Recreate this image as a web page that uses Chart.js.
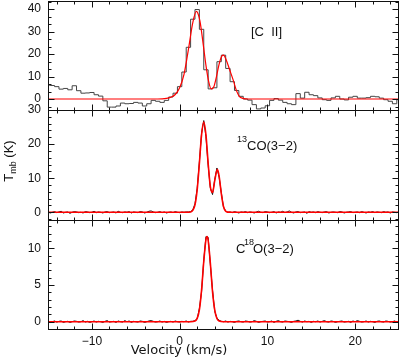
<!DOCTYPE html>
<html>
<head>
<meta charset="utf-8">
<script src="https://cdn.jsdelivr.net/npm/chart.js@4.4.1/dist/chart.umd.min.js"></script>
<style>
  html, body { margin: 0; padding: 0; background: #fff; }
  #wrap { position: relative; width: 399px; height: 357px; }
  #wrap canvas { position: absolute; left: 0; top: 0; }
</style>
</head>
<body>
<div id="wrap">
  <canvas id="cii" width="399" height="357"></canvas>
  <canvas id="co13" width="399" height="357"></canvas>
  <canvas id="c18o" width="399" height="357"></canvas>
</div>
<script>
// velocity range shared by the three panels (km/s)
const V_MIN = -15;
const V_MAX = 25;
const velTicks = [-10, 0, 10, 20];

// [C II]: 0.5 km/s channels centred on -15, -14.5, ... 25
const CII_V0 = -15.25; // left edge of first channel
const CII_DV = 0.5;
const ciiTicks = [0, 10, 20, 30, 40];
const ciiHist = [
  6.2, 6.0, 5.5, 4.4, 4.7, 4.1, 5.9, 3.7, 2.6, 2.7,
  2.9, 1.9, 1.3, -0.8, -3.6, -3.6, -3.1, -1.8, -2.1, -2.0,
  -1.5, -1.8, -3.1, -2.1, -0.6, -1.0, -1.5, -0.6, 0.9, 2.6,
  5.5,
  12, 23, 35.5, 39.8, 31, 13, 4.5, 5, 16.6, 19.5,
  13.6, 7.7, 3.8, 1.2, 0, -0.5,
  -2.5, -4.4, -4.0, -3.0, -0.6, 0.2, -0.5, -1.5, -2.1, -2.5,
  2.4, 0.4, 3.0, 1.9, 1.5, 0.5, -0.3, -0.6, 0.5, 1.2,
  0, -0.4, 0.8, 1.2, 0.4, 0.4, 0.6, 1.2, 1.0, 0.4,
  -0.3, -1.0, -2.1, -0.3
];
// [C II] fit (red)
const ciiFitV = [-15, -2.5, -1.5, -1, -0.5, 0, 0.5, 1, 1.5, 1.9, 2.3, 2.7, 3.0, 3.3, 3.6, 3.9, 4.2, 4.5, 4.8, 5.0, 5.3, 5.7, 6.1, 6.5, 6.8, 7.2, 7.8, 25];
const ciiFitT = [0, 0, 0.3, 0.8, 2, 5, 11, 22, 34, 39, 35, 24, 15, 8, 4.5, 5.5, 10, 15.5, 19, 19.5, 17.5, 13, 8.5, 3.5, 1.2, 0.3, 0, 0];

// CO spectra sampled every SPEC_DV from SPEC_V0
const SPEC_V0 = -15;
const SPEC_DV = 0.25;

const co13Ticks = [0, 10, 20, 30];
const co13Spec = [
  0.1, -0.2, 0.0, 0.2, -0.1, 0.1, 0.3, -0.2, 0.0, 0.1,
  -0.3, 0.0, 0.2, 0.1, -0.1, 0.0, -0.2, 0.2, 0.1, -0.1,
  0.0, 0.3, -0.1, 0.1, 0.0, -0.2, 0.1, 0.2, -0.1, 0.0,
  0.1, -0.2, 0.3, 0.0, -0.1, 0.1, 0.0, 0.2, -0.2, 0.1,
  0.0, -0.1, 0.2, 0.1, -0.2, 0.0, 0.3, 0.4, 0.1, -0.1,
  0.0, 0.2, -0.1, 0.1, -0.2, 0.0, 0.1, -0.1, 0.2, 0.0,
  -0.1, 0.1, 0.0, 0.1,
  0.1, 0.2, 0.7, 2.5, 7.0, 14.8, 23.2, 26.9, 22.2, 13.8,
  7.1, 5.2, 9.6, 13.0, 10.3, 5.8, 1.5, 0.4, 0.0, 0.1,
  -0.1, 0.2, 0.0, -0.2, 0.1, 0.0, 0.2, -0.1, 0.1, 0.0,
  -0.2, 0.1, 0.3, 0.0, -0.1, 0.2, 0.1, -0.1, 0.0, 0.2,
  -0.2, 0.1, 0.0, 0.3, -0.1, 0.1, 0.4, 0.0, -0.2, 0.1,
  0.2, -0.1, 0.0, 0.1, -0.3, 0.2, 0.0, 0.1, -0.1, 0.2,
  0.0, -0.1, 0.1, 0.2, -0.2, 0.0, 0.1, 0.0, -0.1, 0.2,
  0.1, -0.2, 0.0, 0.1, 0.2, -0.1, 0.0, 0.1, -0.1, 0.2,
  0.0, -0.2, 0.1, 0.0, 0.2, -0.1, 0.1, 0.0, -0.1, 0.2,
  0.0, 0.1, -0.2, 0.1, 0.0, -0.1, 0.1
];
const co13FitV = [-15, 0.75, 1.25, 1.5, 1.75, 2.0, 2.25, 2.5, 2.75, 3.0, 3.25, 3.5, 3.75, 4.0, 4.3, 4.5, 4.75, 5.0, 5.25, 5.5, 5.9, 25];
const co13FitT = [0, 0, 0.1, 0.6, 2.2, 6.6, 14.3, 22.7, 26.5, 22.7, 14.4, 7.5, 5.8, 9.3, 12.6, 10.6, 5.5, 1.7, 0.3, 0.05, 0, 0];

const c18oTicks = [0, 5, 10];
const c18oSpec = [
  0.05, -0.1, 0.0, 0.1, -0.05, 0.05, 0.1, -0.1, 0.0, 0.05,
  -0.1, 0.0, 0.1, 0.05, -0.05, 0.0, 0.15, -0.05, 0.05, -0.1,
  0.0, 0.1, -0.05, 0.05, 0.0, -0.1, 0.05, 0.15, -0.05, 0.0,
  0.05, -0.1, 0.1, 0.0, -0.05, 0.15, 0.0, 0.1, -0.1, 0.05,
  0.0, -0.05, 0.1, 0.05, -0.1, 0.0, 0.1, 0.15, 0.05, -0.05,
  0.0, 0.1, -0.05, 0.05, -0.1, 0.0, 0.05, -0.05, 0.1, 0.0,
  -0.05, 0.05, 0.0, 0.1, -0.05, 0.05,
  0.05, 0.15, 0.4, 1.8, 4.1, 8.4, 11.6, 11.5, 7.8, 4.3,
  1.4, 0.5, 0.2, 0.05,
  0.0, 0.1, -0.05, 0.05, 0.0, -0.1, 0.05, 0.1, 0.0, -0.05,
  0.1, 0.05, -0.05, 0.0, 0.15, 0.05, -0.1, 0.0, 0.05, 0.1,
  -0.05, 0.0, 0.1, -0.1, 0.05, 0.15, 0.0, -0.05, 0.1, 0.05,
  0.0, -0.1, 0.05, 0.1, 0.2, 0.05, -0.05, 0.1, 0.0, 0.05,
  -0.1, 0.05, 0.0, 0.1, -0.05, 0.05, 0.15, 0.0, -0.05, 0.1,
  0.05, -0.1, 0.0, 0.05, 0.1, -0.05, 0.0, 0.05, -0.1, 0.1,
  0.0, 0.15, 0.05, -0.05, 0.0, 0.1, -0.05, 0.05, 0.0, -0.1,
  0.05, 0.1, 0.0, -0.05, 0.1, 0.05, -0.05, 0.0, 0.1, -0.05,
  0.05
];
const c18oFitV = [-15, 1.25, 1.75, 2.0, 2.25, 2.5, 2.75, 3.0, 3.12, 3.25, 3.5, 3.75, 4.0, 4.25, 4.5, 5.0, 25];
const c18oFitT = [0, 0, 0.09, 0.45, 1.6, 4.3, 8.2, 11.2, 11.6, 11.1, 8.0, 4.1, 1.6, 0.43, 0.09, 0, 0];

const SANS = "'Liberation Sans', Arial, sans-serif";
const RED = "#ff0000";
const INK = "#111";

function pairs(vs, ts) {
  return vs.map((v, i) => ({ x: v, y: ts[i] }));
}

function gridSpec(vals) {
  return vals.map((t, i) => ({ x: SPEC_V0 + i * SPEC_DV, y: t }));
}

// histogram: value holds from the left edge of each channel
function histPoints(vals) {
  const pts = vals.map((t, i) => ({ x: CII_V0 + i * CII_DV, y: t }));
  pts.push({ x: CII_V0 + vals.length * CII_DV, y: vals[vals.length - 1] });
  return pts;
}

function fmt(v) {
  return v < 0 ? "\u2212" + Math.abs(v) : String(v);
}

// box with inward ticks on all four sides, tick labels, panel label
const framePlugin = {
  id: "frame",
  afterDatasetsDraw(chart, args, opts) {
    const { ctx, chartArea: a, scales: { x, y } } = chart;
    const L = a.left + 0.5, R = a.right - 0.5, T = a.top + 0.5, B = a.bottom - 0.5;
    ctx.save();
    ctx.strokeStyle = INK;
    ctx.lineWidth = 1;
    ctx.strokeRect(L, T, R - L, B - T);
    ctx.beginPath();
    for (let v = -14; v <= 24; v += 2) {
      const px = Math.round(x.getPixelForValue(v)) + 0.5;
      const len = v % 10 === 0 ? 6 : 3;
      ctx.moveTo(px, T); ctx.lineTo(px, T + len);
      ctx.moveTo(px, B); ctx.lineTo(px, B - len);
    }
    const step = opts.major / opts.nsub;
    for (let k = Math.ceil(y.min / step); k * step <= y.max + 1e-6; k++) {
      const py = Math.round(y.getPixelForValue(k * step)) + 0.5;
      const len = k % opts.nsub === 0 ? 6 : 3;
      ctx.moveTo(L, py); ctx.lineTo(L + len, py);
      ctx.moveTo(R, py); ctx.lineTo(R - len, py);
    }
    ctx.stroke();

    ctx.fillStyle = INK;
    ctx.font = "12px " + SANS;
    ctx.textAlign = "right";
    ctx.textBaseline = "middle";
    opts.yTicks.forEach(v => ctx.fillText(fmt(v), a.left - 7, y.getPixelForValue(v)));
    if (opts.xTicks) {
      ctx.textAlign = "center";
      ctx.textBaseline = "top";
      opts.xTicks.forEach(v => ctx.fillText(fmt(v), x.getPixelForValue(v), a.bottom + 6));
    }

    ctx.textAlign = "left";
    ctx.textBaseline = "alphabetic";
    (opts.label || []).forEach(p => {
      ctx.font = p.size + "px " + SANS;
      ctx.fillText(p.text, p.x, p.y);
    });

    if (opts.axisTitles) {
      ctx.font = "13px 'DejaVu Sans', sans-serif";
      ctx.textAlign = "center";
      ctx.fillText("Velocity (km/s)", 179, 354);
      // T_mb (K), rotated
      ctx.translate(13, 161);
      ctx.rotate(-Math.PI / 2);
      ctx.textAlign = "left";
      ctx.font = "13px " + SANS;
      const w1 = ctx.measureText("T").width;
      const w3 = ctx.measureText(" (K)").width;
      ctx.font = "9px " + SANS;
      const w2 = ctx.measureText("mb").width;
      let cx = -(w1 + w2 + w3) / 2;
      ctx.font = "13px " + SANS;
      ctx.fillText("T", cx, 0); cx += w1;
      ctx.font = "9px " + SANS;
      ctx.fillText("mb", cx, 3); cx += w2;
      ctx.font = "13px " + SANS;
      ctx.fillText(" (K)", cx, 0);
    }
    ctx.restore();
  }
};

function makePanel(id, p) {
  return new Chart(document.getElementById(id), {
    type: "line",
    data: { datasets: p.datasets },
    options: {
      responsive: false,
      animation: false,
      events: [],
      layout: { padding: { top: p.top, bottom: p.bottom, left: 48, right: 0 } },
      elements: { point: { radius: 0 } },
      plugins: {
        legend: { display: false },
        tooltip: { enabled: false },
        frame: {
          major: p.major, nsub: p.nsub, yTicks: p.yTicks, xTicks: p.xTicks,
          label: p.label, axisTitles: p.axisTitles
        }
      },
      scales: {
        x: { type: "linear", min: V_MIN, max: V_MAX, display: false },
        y: { type: "linear", min: p.yMin, max: p.yMax, display: false }
      }
    },
    plugins: [framePlugin]
  });
}

makePanel("cii", {
  top: 1, bottom: 246, yMin: -5.33, yMax: 43.6, major: 10, nsub: 3, yTicks: ciiTicks,
  label: [{ text: "[C  II]", x: 251, y: 36, size: 13 }],
  datasets: [
    { data: pairs(ciiFitV, ciiFitT), borderColor: RED, borderWidth: 1.2, cubicInterpolationMode: "monotone" },
    { data: histPoints(ciiHist), borderColor: "#444", borderWidth: 1, stepped: "before" }
  ]
});

makePanel("co13", {
  top: 110, bottom: 136, yMin: -2.55, yMax: 30, major: 10, nsub: 5, yTicks: co13Ticks,
  label: [
    { text: "13", x: 237, y: 142, size: 9 },
    { text: "CO(3\u22122)", x: 247, y: 150, size: 13 }
  ],
  datasets: [
    { data: pairs(co13FitV, co13FitT), borderColor: RED, borderWidth: 1.6, cubicInterpolationMode: "monotone" },
    { data: gridSpec(co13Spec), borderColor: INK, borderWidth: 1 }
  ]
});

makePanel("c18o", {
  top: 220, bottom: 27, yMin: -1.13, yMax: 13.86, major: 5, nsub: 5, yTicks: c18oTicks,
  xTicks: velTicks, axisTitles: true,
  label: [
    { text: "C", x: 236, y: 253, size: 13 },
    { text: "18", x: 244, y: 245, size: 9 },
    { text: "O(3\u22122)", x: 253, y: 253, size: 13 }
  ],
  datasets: [
    { data: pairs(c18oFitV, c18oFitT), borderColor: RED, borderWidth: 1.6, cubicInterpolationMode: "monotone" },
    { data: gridSpec(c18oSpec), borderColor: INK, borderWidth: 1 }
  ]
});
</script>
</body>
</html>
